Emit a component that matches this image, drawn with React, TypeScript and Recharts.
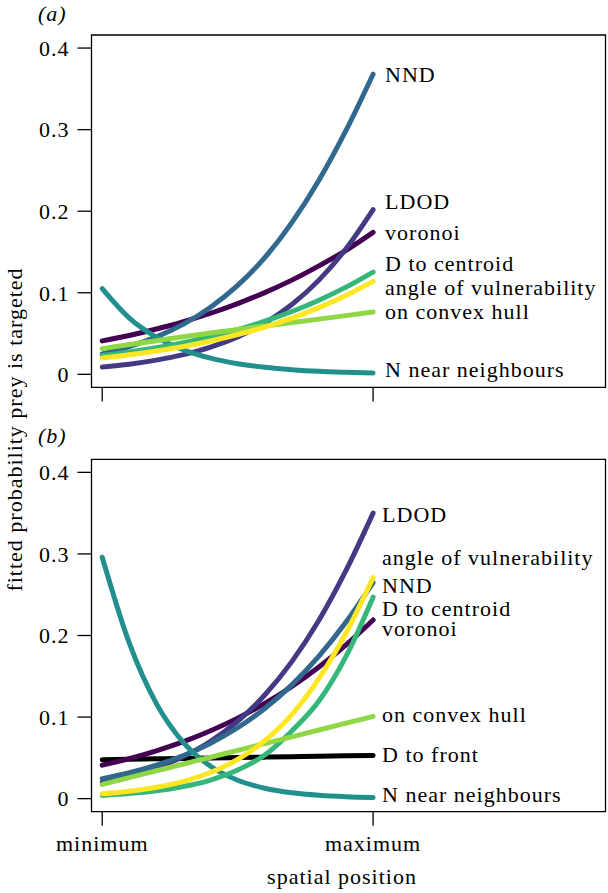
import React from "react";
import { LineChart, Line, XAxis, YAxis, ReferenceArea } from "recharts";

// spatial position, scaled 0 (minimum) .. 1 (maximum)
const positions = [0, 0.1, 0.2, 0.3, 0.4, 0.5, 0.6, 0.7, 0.8, 0.9, 1];

// panel (a)
const voronoiA = [0.041, 0.0477, 0.0556, 0.0645, 0.0749, 0.0867, 0.1002, 0.1155, 0.133, 0.152, 0.174];
const ldodA = [0.009, 0.0125, 0.0174, 0.0241, 0.0333, 0.0459, 0.0629, 0.0856, 0.1155, 0.154, 0.202];
const nndA = [0.0251, 0.034, 0.0459, 0.0616, 0.0823, 0.109, 0.143, 0.186, 0.238, 0.299, 0.368];
const nearA = [0.105, 0.069, 0.0456, 0.03, 0.0198, 0.013, 0.0086, 0.0057, 0.0037, 0.0025, 0.0016];
const centroidA = [0.023, 0.0275, 0.0327, 0.0389, 0.0463, 0.0549, 0.0651, 0.077, 0.0909, 0.1069, 0.1254];
const hullA = [0.0315, 0.0365, 0.0413, 0.0461, 0.0507, 0.055, 0.0593, 0.0635, 0.0677, 0.072, 0.0764];
const angleA = [0.02, 0.0239, 0.0287, 0.0342, 0.0409, 0.0488, 0.058, 0.069, 0.0818, 0.0967, 0.114];

// panel (b)
const frontB = [0.0478, 0.0483, 0.0488, 0.0493, 0.0499, 0.0504, 0.0509, 0.0514, 0.0519, 0.0525, 0.053];
const voronoiB = [0.041, 0.0491, 0.0587, 0.0699, 0.0832, 0.0987, 0.1167, 0.1375, 0.1613, 0.1885, 0.219];
const ldodB = [0.02, 0.0275, 0.0378, 0.0517, 0.0702, 0.0949, 0.127, 0.168, 0.2187, 0.2797, 0.35];
const nndB = [0.0245, 0.0317, 0.041, 0.0529, 0.068, 0.0869, 0.1105, 0.1395, 0.1746, 0.2165, 0.265];
const nearB = [0.296, 0.1906, 0.1165, 0.0687, 0.0397, 0.0226, 0.0128, 0.0072, 0.0041, 0.0023, 0.0013];
const centroidB = [0.004, 0.0062, 0.0096, 0.0148, 0.0228, 0.035, 0.0534, 0.083, 0.1197, 0.1744, 0.247];
const hullB = [0.0175, 0.0258, 0.0342, 0.0425, 0.0508, 0.0592, 0.0675, 0.0758, 0.0842, 0.0925, 0.1008];
const angleB = [0.006, 0.0092, 0.014, 0.0212, 0.032, 0.048, 0.071, 0.103, 0.147, 0.203, 0.271];

const yTicks = [0, 0.1, 0.2, 0.3, 0.4];
const xTicks = [0, 1];
const xTickNames = ["minimum", "maximum"];

const X_DOMAIN = [-0.0396, 1.858];
const Y_DOMAIN = [-0.016, 0.416];
const FONT = "'Liberation Serif', 'Times New Roman', serif";
const FS = 22;
const LS = 1;

const build = (series: Record<string, number[]>) =>
  positions.map((t, i) => {
    const row: Record<string, number> = { t };
    for (const k of Object.keys(series)) row[k] = series[k][i];
    return row;
  });

const dataA = build({ voronoi: voronoiA, ldod: ldodA, nnd: nndA, near: nearA, centroid: centroidA, hull: hullA, angle: angleA });
const dataB = build({ front: frontB, voronoi: voronoiB, ldod: ldodB, nnd: nndB, near: nearB, centroid: centroidB, hull: hullB, angle: angleB });

// dy = shift of the right-hand label from the line end
const seriesA = [
  { key: "voronoi", name: "voronoi", color: "#440154", dy: 8 },
  { key: "ldod", name: "LDOD", color: "#443A83", dy: -1 },
  { key: "nnd", name: "NND", color: "#31688E", dy: 8 },
  { key: "near", name: "N near neighbours", color: "#21908C", dy: 4 },
  { key: "centroid", name: "D to centroid", color: "#35B779", dy: -1 },
  { key: "hull", name: "on convex hull", color: "#8FD744", dy: 6.5 },
  { key: "angle", name: "angle of vulnerability", color: "#FDE725", dy: 14 },
];

const seriesB = [
  { key: "front", name: "D to front", color: "#000000", dy: 6.5 },
  { key: "voronoi", name: "voronoi", color: "#440154", dy: 16 },
  { key: "ldod", name: "LDOD", color: "#443A83", dy: 9 },
  { key: "nnd", name: "NND", color: "#31688E", dy: 11 },
  { key: "near", name: "N near neighbours", color: "#21908C", dy: 4.5 },
  { key: "centroid", name: "D to centroid", color: "#35B779", dy: 18.5 },
  { key: "hull", name: "on convex hull", color: "#8FD744", dy: 5.7 },
  { key: "angle", name: "angle of vulnerability", color: "#FDE725", dy: -12.5 },
];

const tickStyle = { fontFamily: FONT, fontSize: FS, fill: "#000", letterSpacing: LS };

function endLabel(name: string, dx: number, dy: number) {
  return (props: any) => {
    if (props.index !== positions.length - 1) return null;
    return (
      <text
        x={props.x + dx}
        y={props.y + dy}
        fontFamily={FONT}
        fontSize={FS}
        letterSpacing={LS}
        fill="#000"
        textAnchor="start"
      >
        {name}
      </text>
    );
  };
}

interface PanelProps {
  data: Record<string, number>[];
  series: { key: string; name: string; color: string; dy: number }[];
  height: number;
  top: number;
  xAxisHeight: number;
  showXLabels: boolean;
  labelDx: number;
}

function Panel({ data, series, height, top, xAxisHeight, showXLabels, labelDx }: PanelProps) {
  return (
    <LineChart width={608} height={height} data={data} margin={{ top, right: 2.5, bottom: 0, left: 0 }}>
      <XAxis
        dataKey="t"
        type="number"
        domain={X_DOMAIN}
        ticks={xTicks}
        allowDataOverflow
        axisLine={false}
        tickLine={{ stroke: "#000", strokeWidth: 1.3 }}
        tickSize={14}
        tickMargin={10}
        height={xAxisHeight}
        interval={0}
        tick={tickStyle}
        tickFormatter={(v: number) => (showXLabels ? xTickNames[xTicks.indexOf(v)] : "")}
      />
      <YAxis
        type="number"
        domain={Y_DOMAIN}
        ticks={yTicks}
        allowDataOverflow
        width={91.5}
        axisLine={false}
        tickLine={{ stroke: "#000", strokeWidth: 1.3 }}
        tickSize={14}
        tickMargin={8}
        interval={0}
        tick={tickStyle}
        tickFormatter={(v: number) => (v === 0 ? "0" : v.toFixed(1))}
      />
      <ReferenceArea
        x1={X_DOMAIN[0]}
        x2={X_DOMAIN[1]}
        y1={Y_DOMAIN[0]}
        y2={Y_DOMAIN[1]}
        fill="none"
        fillOpacity={0}
        stroke="#000"
        strokeWidth={1.3}
        ifOverflow="visible"
      />
      {series.map((s) => (
        <Line
          key={s.key}
          dataKey={s.key}
          type="monotone"
          stroke={s.color}
          strokeWidth={5}
          strokeLinecap="round"
          strokeLinejoin="round"
          dot={false}
          activeDot={false}
          isAnimationActive={false}
          label={endLabel(s.name, labelDx, s.dy)}
        />
      ))}
    </LineChart>
  );
}

export default function App() {
  return (
    <div style={{ position: "absolute", left: 0, top: 0, width: 608, height: 893, background: "#fff" }}>
      <div style={{ position: "absolute", left: 0, top: 0 }}>
        <Panel data={dataA} series={seriesA} height={420} top={35} xAxisHeight={32.6} showXLabels={false} labelDx={12} />
      </div>
      <div style={{ position: "absolute", left: 0, top: 420 }}>
        <Panel data={dataB} series={seriesB} height={473} top={39.3} xAxisHeight={81.3} showXLabels labelDx={9} />
      </div>
      <svg width={608} height={893} style={{ position: "absolute", left: 0, top: 0, pointerEvents: "none" }}>
        <text x={38} y={21} fontFamily={FONT} fontSize={FS} fontStyle="italic" letterSpacing={LS}>
          (a)
        </text>
        <text x={38} y={443} fontFamily={FONT} fontSize={FS} fontStyle="italic" letterSpacing={LS}>
          (b)
        </text>
        <text
          x={22}
          y={429.5}
          transform="rotate(-90 22 429.5)"
          textAnchor="middle"
          fontFamily={FONT}
          fontSize={FS}
          letterSpacing={LS}
        >
          fitted probability prey is targeted
        </text>
        <text x={342} y={884} textAnchor="middle" fontFamily={FONT} fontSize={FS} letterSpacing={LS}>
          spatial position
        </text>
      </svg>
    </div>
  );
}
